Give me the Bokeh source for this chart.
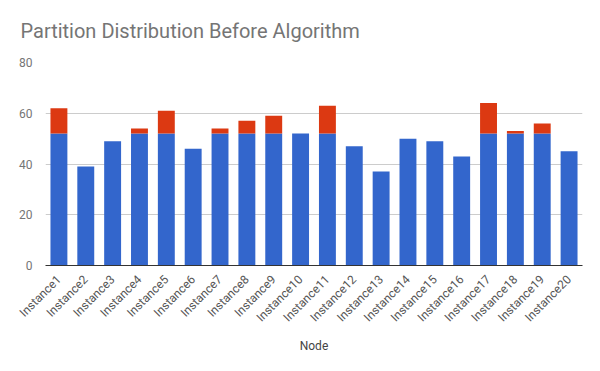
import math
from bokeh.plotting import figure
from bokeh.models import Range1d, FixedTicker, ColumnDataSource
from bokeh.embed import file_html
from bokeh.resources import INLINE

nodes = [f"Instance{i}" for i in range(1, 21)]
base = [52, 39, 49, 52, 52, 46, 52, 52, 52, 52, 52, 47, 37, 50, 49, 43, 52, 52, 52, 45]
extra = [10, 0, 0, 2, 9, 0, 2, 5, 7, 0, 11, 0, 0, 0, 0, 0, 12, 1, 4, 0]
series = ["base", "extra"]
colors = ["#3366CC", "#DC3912"]

src = ColumnDataSource(dict(node=nodes, base=base, extra=extra))

p = figure(x_range=nodes, y_range=Range1d(0, 80), width=600, height=371,
           output_backend="svg", toolbar_location=None,
           min_border_left=45, min_border_right=18, min_border_top=62, min_border_bottom=106)
p.vbar_stack(series, x="node", width=0.63, color=colors, source=src, line_width=0)

p.title.text = "Partition Distribution Before Algorithm"
p.title.text_font = "Roboto"
p.title.text_font_size = "20px"
p.title.text_font_style = "normal"
p.title.text_color = "#757575"
p.title.offset = -25
p.title.standoff = 35
p.title.vertical_align = "top"

p.outline_line_color = None
p.xgrid.grid_line_color = None
p.ygrid.grid_line_color = "#CCCCCC"
p.ygrid.grid_line_width = 1

p.yaxis.ticker = FixedTicker(ticks=[0, 20, 40, 60, 80])
p.yaxis.axis_line_color = None
p.yaxis.major_tick_line_color = None
p.yaxis.minor_tick_line_color = None
p.yaxis.major_label_text_font = "Roboto"
p.yaxis.major_label_text_font_size = "12px"
p.yaxis.major_label_text_color = "#757575"
p.yaxis.major_label_standoff = 7

p.xaxis.axis_line_color = "#333333"
p.xaxis.axis_line_width = 1
p.xaxis.major_tick_line_color = None
p.xaxis.minor_tick_line_color = None
p.xaxis.major_label_orientation = math.pi / 4
p.xaxis.major_label_text_font = "Roboto"
p.xaxis.major_label_text_font_size = "12px"
p.xaxis.major_label_text_color = "#555555"
p.xaxis.major_label_standoff = 6
p.xaxis.axis_label = "Node"
p.xaxis.axis_label_text_font = "Roboto"
p.xaxis.axis_label_text_font_size = "12px"
p.xaxis.axis_label_text_font_style = "normal"
p.xaxis.axis_label_text_color = "#444444"
p.xaxis.axis_label_standoff = 7

p.x_range.range_padding = 0.0

open("out.html", "w").write(file_html(p, INLINE))
